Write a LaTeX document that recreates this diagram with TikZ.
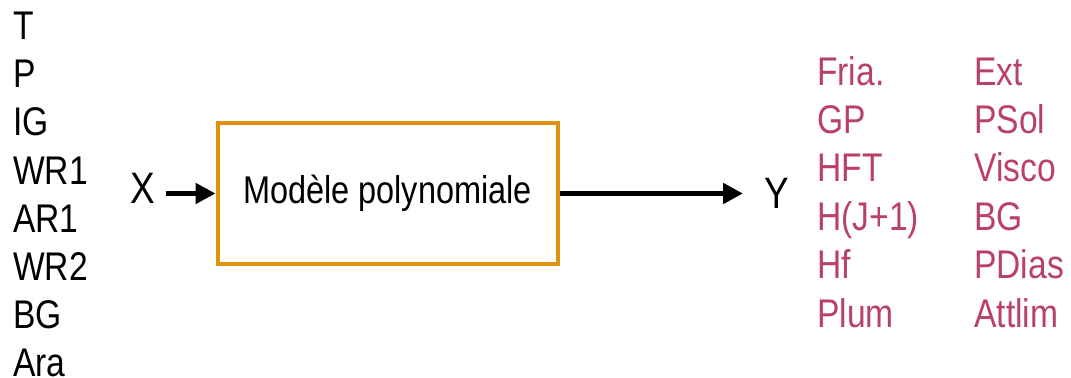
\documentclass[tikz,border=0pt]{standalone}
\usepackage{fontspec}
\setmainfont{Liberation Sans}
\newfontfamily\narrowsans[FakeStretch=0.84]{Liberation Sans}
\usetikzlibrary{arrows.meta}
\definecolor{boxorange}{RGB}{224,146,12}
\definecolor{outpink}{RGB}{186,64,108}
\begin{document}
\begin{tikzpicture}[x=0.75pt,y=-0.75pt,
  lbl/.style={anchor=base west,inner sep=0pt,font=\narrowsans\fontsize{30pt}{36pt}\selectfont},
  biglbl/.style={lbl,font=\narrowsans\fontsize{33pt}{38pt}\selectfont},
  outlbl/.style={lbl,text=outpink},
  modelbox/.style={draw=boxorange,line width=3pt,inner sep=0pt,
    font=\narrowsans\fontsize{29pt}{34pt}\selectfont},
  bigarrow/.style={line width=4.4pt,-{Triangle[length=15pt,width=15pt]}}
]
\useasboundingbox (0,0) rectangle (1071,378);
% inputs
\foreach \t [count=\i from 0] in {T,P,IG,WR1,AR1,WR2,BG}{
  \node[lbl] (in\i) at (13,40+48.0*\i) {\t};
}
\node[lbl,text depth=0pt] (in7) at (13,376) {Ara};
\node[biglbl] (X) at (130,203) {X};
\node[modelbox,minimum width=255pt,minimum height=105.75pt] (box) at (387.5,193.5) {Modèle polynomiale};
\node[biglbl] (Y) at (764,208) {Y};
\draw[bigarrow] ([xshift=8pt]X.east |- box.west) -- (box.west);
\draw[bigarrow] (box.east) -- ([xshift=-15.75pt]Y.west |- box.east);
% outputs
\foreach \t [count=\i from 0] in {Fria.,GP,HFT,H(J+1),Hf,Plum}{
  \node[outlbl] (oa\i) at (817,85+48.4*\i) {\t};
}
\foreach \t [count=\i from 0] in {Ext,PSol,Visco,BG,PDias,Attlim}{
  \node[outlbl] (ob\i) at (974,85+48.4*\i) {\t};
}
\end{tikzpicture}
\end{document}
